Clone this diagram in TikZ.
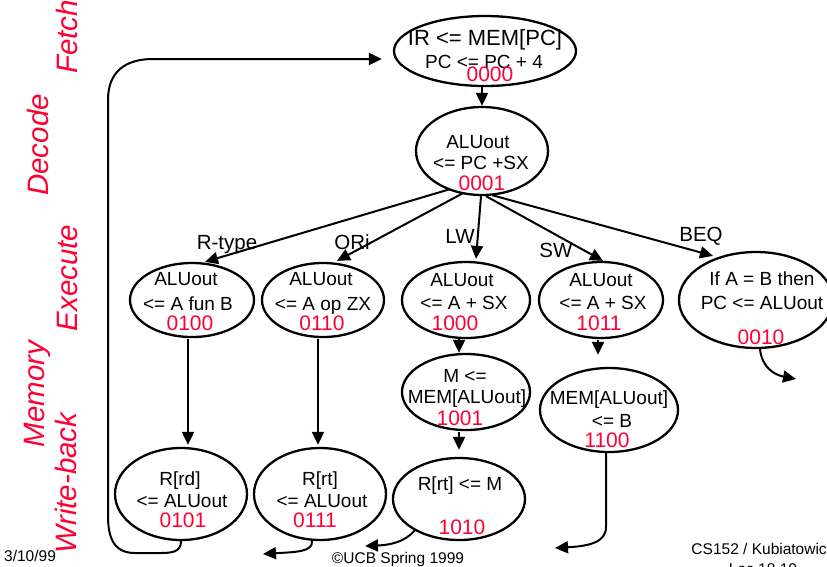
\documentclass[tikz,border=0pt]{standalone}
\usepackage{fontspec}
\setmainfont{Liberation Sans}
\usetikzlibrary{arrows.meta,calc,shapes.geometric}
\definecolor{statered}{RGB}{255,0,51}
\begin{document}
\begin{tikzpicture}[x=1pt,y=-1pt,
  state/.style={draw, ellipse, line width=2.3pt, inner sep=0pt},
  txt/.style={font=\fontsize{19}{22}\selectfont, anchor=base, inner sep=0pt},
  bigtxt/.style={txt, font=\fontsize{22}{25}\selectfont},
  code/.style={txt, font=\fontsize{21}{24}\selectfont, text=statered},
  branch/.style={font=\fontsize{20.5}{24}\selectfont, anchor=base, inner sep=0pt},
  phase/.style={font=\fontsize{29.5}{32}\selectfont\itshape, text=statered, rotate=90, inner sep=0pt},
  foot/.style={font=\fontsize{15.5}{18}\selectfont, anchor=base, inner sep=0pt},
  link/.style={line width=2pt, -{Triangle[length=13pt,width=12pt]}}]
\useasboundingbox (0,0) rectangle (827,566);
\clip (0,0) rectangle (827,566);

% phase labels
\node[phase] (phfetch) at (67,37) {Fetch};
\node[phase] (phdecode) at (38,145) {Decode};
\node[phase] (phexec) at (67,278) {Execute};
\node[phase] (phmem) at (37,394) {Memory};
\node[phase] (phwb) at (66,483) {Write-back};

% states
\node[state, minimum width=182pt, minimum height=70pt] (fetch) at (485,51) {};
\node[bigtxt] (fetcha) at (485,45) {IR <= MEM[PC]};
\node[txt] (fetchb) at (484,68) {PC <= PC + 4};
\node[code] (fetchc) at (490,81) {0000};

\node[state, minimum width=132pt, minimum height=88pt] (decode) at (482,151) {};
\node[txt] (decodea) at (478,148) {ALUout};
\node[txt] (decodeb) at (481,169) {<= PC +SX};
\node[code] (decodec) at (482,190) {0001};

\node[state, minimum width=124pt, minimum height=74pt] (rtype) at (192,300) {};
\node[txt] (rtypea) at (186,285) {ALUout};
\node[txt] (rtypeb) at (188,310) {<= A fun B};
\node[code] (rtypec) at (190,330) {0100};

\node[state, minimum width=122pt, minimum height=74pt] (ori) at (323,300) {};
\node[txt] (oria) at (321,285) {ALUout};
\node[txt] (orib) at (323,310) {<= A op ZX};
\node[code] (oric) at (322,330) {0110};

\node[state, minimum width=128pt, minimum height=76pt] (lw) at (466,300) {};
\node[txt] (lwa) at (462,286) {ALUout};
\node[txt] (lwb) at (464,309) {<= A + SX};
\node[code] (lwc) at (455,330) {1000};

\node[state, minimum width=124pt, minimum height=76pt] (sw) at (601,300) {};
\node[txt] (swa) at (601,286) {ALUout};
\node[txt] (swb) at (603,309) {<= A + SX};
\node[code] (swc) at (599,330) {1011};

\node[state, minimum width=154pt, minimum height=96pt] (beq) at (756,300) {};
\node[txt] (beqa) at (762,285) {If A = B then};
\node[txt] (beqb) at (762,309) {PC <= ALUout};
\node[code] (beqc) at (761,344) {0010};

\node[state, minimum width=128pt, minimum height=76pt] (lwmem) at (466,392) {};
\node[txt] (lwmema) at (465,382) {M <=};
\node[txt] (lwmemb) at (467,403) {MEM[ALUout]};
\node[code] (lwmemc) at (460,425) {1001};

\node[state, minimum width=138pt, minimum height=84pt] (swmem) at (609,410) {};
\node[txt] (swmema) at (609,404) {MEM[ALUout]};
\node[txt] (swmemb) at (612,427) {<= B};
\node[code] (swmemc) at (607,447) {1100};

\node[state, minimum width=132pt, minimum height=92pt] (rdwb) at (181,494) {};
\node[txt] (rdwba) at (180,485) {R[rd]};
\node[txt] (rdwbb) at (182,507) {<= ALUout};
\node[code] (rdwbc) at (183,527) {0101};

\node[state, minimum width=132pt, minimum height=92pt] (rtwb) at (320,494) {};
\node[txt] (rtwba) at (320,485) {R[rt]};
\node[txt] (rtwbb) at (322,507) {<= ALUout};
\node[code] (rtwbc) at (315,527) {0111};

\node[state, minimum width=132pt, minimum height=82pt] (lwwb) at (459,499) {};
\node[txt] (lwwba) at (460,490) {R[rt] <= M};
\node[code] (lwwbc) at (462,534) {1010};

% branch labels
\node[branch] (lblr) at (227,249) {R-type};
\node[branch] (lblori) at (352,249) {ORi};
\node[branch] (lbllw) at (460,243) {LW};
\node[branch] (lblsw) at (556,257) {SW};
\node[branch] (lblbeq) at (701,241) {BEQ};

% footer
\node[foot, anchor=base west] (date) at (4,561) {3/10/99};
\node[foot] (copy) at (398,563) {©UCB Spring 1999};
\node[foot] (course) at (763,554) {CS152 / Kubiatowicz};
\node[foot] (lecture) at (763,574) {Lec 18.10};

% connectors
\draw[link] (decode.north |- fetch.south) -- (decode.north);
\draw[link] ($(decode.south)+(-32,-7)$) -- ($(rtype.north)+(13,0)$);
\draw[link] ($(decode.south)+(-19,-3)$) -- ($(ori.north)+(14,-1)$);
\draw[link] ($(decode.south)+(-1,0)$) -- ($(lw.north)+(10,-2)$);
\draw[link] ($(decode.south)+(4,0)$) -- ($(sw.north)+(2,0)$);
\draw[link] ($(decode.south)+(10,-1)$) -- ($(beq.north)+(-43,5)$);

\draw[link] ($(rtype.south)+(-4,1)$) -- ($(rdwb.north)+(7,-2)$);
\draw[link] ($(ori.south)+(-5,1)$) -- ($(rtwb.north)+(-2,-2)$);
\draw[link] ($(lw.south)+(-7,0)$) -- ($(lwmem.north)+(-7,0)$);
\draw[link] ($(lwmem.south)+(-7,1)$) -- ($(lwwb.north)+(0,-7)$);
\draw[link] ($(sw.south)+(-3,1)$) -- ($(swmem.north)+(-11,-12)$);

% return to fetch
\coordinate (fetchin) at ($(fetch.west)+(-11,8)$);
\draw[link] (rdwb.south) .. controls (181,552) and (172,553) .. (160,553)
  -- (135,553) .. controls (112,553) and (108,535) .. (108,515)
  -- (108,100) .. controls (108,72) and (125,59) .. (153,59)
  -- (fetchin);

% exits toward the fetch state
\coordinate (exitori) at (263,554);
\coordinate (exitlw) at (365,546);
\coordinate (exitsw) at (555,548);
\coordinate (exitbeq) at (796,379);
\draw[link] ($(rtwb.south)+(-8,0)$) .. controls (313,552) and (295,552) .. (exitori);
\draw[link] ($(lwwb.south)+(-44,-11)$) .. controls (405,542) and (390,545) .. (exitlw);
\draw[link] ($(swmem.south)+(-3,0)$) -- (606,527) .. controls (606,542) and (590,546) .. (exitsw);
\draw[link] ($(beq.south)+(4,0)$) .. controls (762,368) and (775,375) .. (exitbeq);
\end{tikzpicture}
\end{document}
